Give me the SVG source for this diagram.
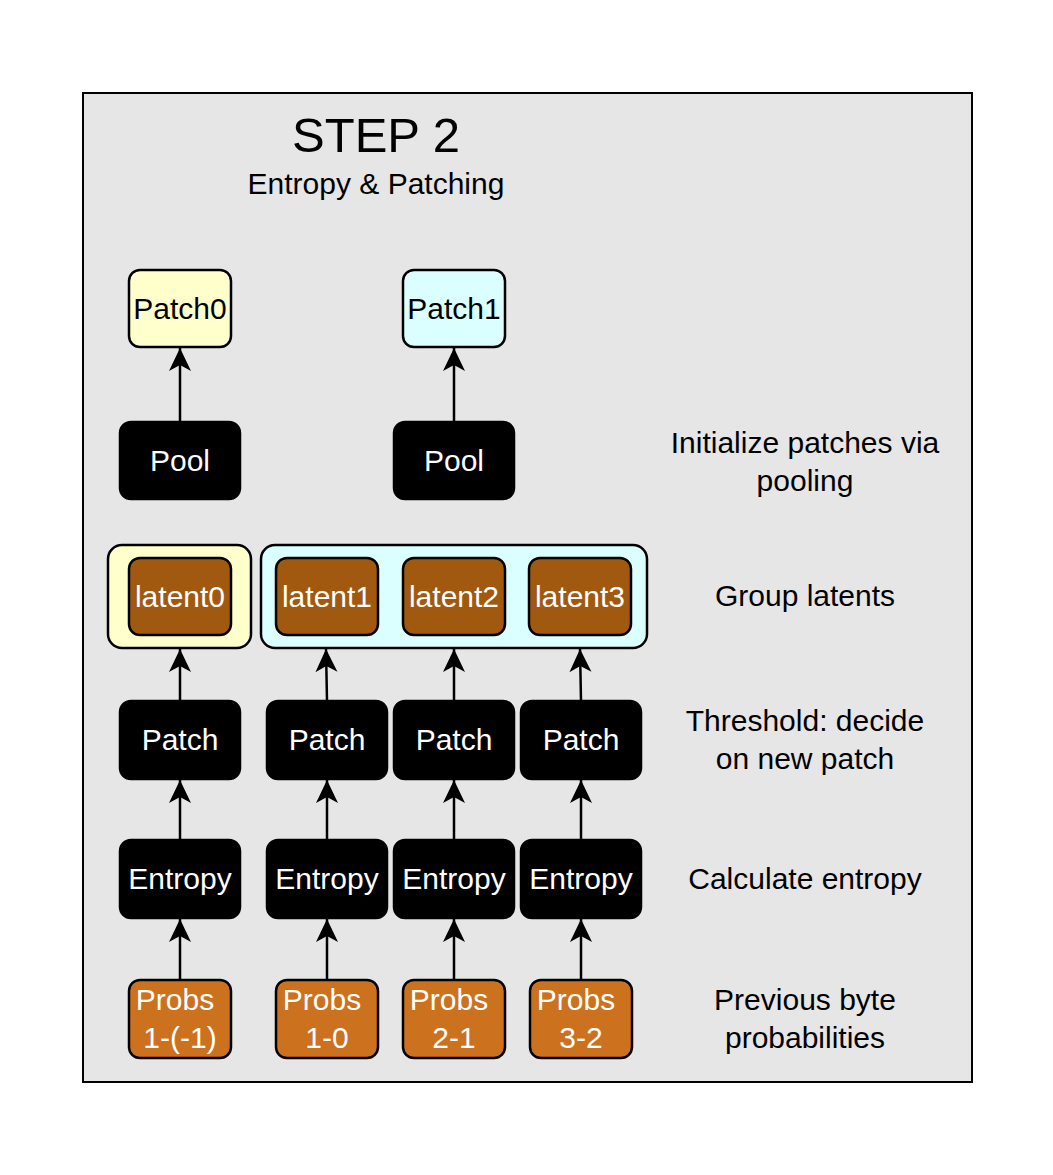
<svg xmlns="http://www.w3.org/2000/svg" width="1053" height="1175" viewBox="0 0 1053 1175">
<defs>
<marker id="arr" viewBox="0 0 24 24" markerWidth="24" markerHeight="24" refX="23" refY="12" orient="auto" markerUnits="userSpaceOnUse">
<path d="M23,12 L0,1 L6,12 L0,23 Z" fill="#000"/>
</marker>
<style>
text{font-family:"Liberation Sans",Arial,Helvetica,sans-serif;font-size:30px;text-anchor:middle}
.w{fill:#fff}
.k{fill:#000}
.box{stroke:#000;stroke-width:2.5}
.blk{fill:#000;stroke:#000;stroke-width:2.5}
.lat{fill:#a0590f;stroke:#000;stroke-width:2.5}
.prob{fill:#cc711d;stroke:#000;stroke-width:2.5}
.edge{stroke:#000;stroke-width:2.5;fill:none;marker-end:url(#arr)}
</style>
</defs>
<rect x="0" y="0" width="1053" height="1175" fill="#fff"/>
<rect id="frame" x="83" y="93" width="889" height="989" fill="#e6e6e6" stroke="#000" stroke-width="2"/>
<g id="title">
<text x="376" y="152" style="font-size:49px">STEP 2</text>
<text x="376" y="194">Entropy &amp; Patching</text>
</g>
<g id="labels">
<text x="805" y="453">Initialize patches via</text>
<text x="805" y="491">pooling</text>
<text x="805" y="606">Group latents</text>
<text x="805" y="731">Threshold: decide</text>
<text x="805" y="769">on new patch</text>
<text x="805" y="889">Calculate entropy</text>
<text x="805" y="1010">Previous byte</text>
<text x="805" y="1048">probabilities</text>
</g>
<g id="patch0"><rect class="box" x="129" y="270" width="102" height="77" rx="11" fill="#ffffcc"/><text x="180" y="319">Patch0</text></g>
<g id="patch1"><rect class="box" x="403" y="270" width="102" height="77" rx="11" fill="#dbffff"/><text x="454" y="319">Patch1</text></g>
<g id="pool0"><rect class="blk" x="120" y="422" width="120" height="77" rx="11"/><text class="w" x="180" y="471">Pool</text></g>
<g id="pool1"><rect class="blk" x="394" y="422" width="120" height="77" rx="11"/><text class="w" x="454" y="471">Pool</text></g>
<g id="group0"><rect class="box" x="108" y="545" width="143" height="103" rx="14" fill="#ffffcc"/></g>
<g id="group1"><rect class="box" x="261" y="545" width="386" height="103" rx="14" fill="#dbffff"/></g>
<g id="latent0"><rect class="lat" x="129" y="558" width="102" height="77" rx="11"/><text class="w" x="180" y="607">latent0</text></g>
<g id="latent1"><rect class="lat" x="276" y="558" width="102" height="77" rx="11"/><text class="w" x="327" y="607">latent1</text></g>
<g id="latent2"><rect class="lat" x="403" y="558" width="102" height="77" rx="11"/><text class="w" x="454" y="607">latent2</text></g>
<g id="latent3"><rect class="lat" x="529" y="558" width="102" height="77" rx="11"/><text class="w" x="580" y="607">latent3</text></g>
<g id="patchA"><rect class="blk" x="120" y="701" width="120" height="78" rx="11"/><text class="w" x="180" y="750">Patch</text></g>
<g id="patchB"><rect class="blk" x="267" y="701" width="120" height="78" rx="11"/><text class="w" x="327" y="750">Patch</text></g>
<g id="patchC"><rect class="blk" x="394" y="701" width="120" height="78" rx="11"/><text class="w" x="454" y="750">Patch</text></g>
<g id="patchD"><rect class="blk" x="521" y="701" width="120" height="78" rx="11"/><text class="w" x="581" y="750">Patch</text></g>
<g id="entropyA"><rect class="blk" x="120" y="840" width="120" height="78" rx="11"/><text class="w" x="180" y="889">Entropy</text></g>
<g id="entropyB"><rect class="blk" x="267" y="840" width="120" height="78" rx="11"/><text class="w" x="327" y="889">Entropy</text></g>
<g id="entropyC"><rect class="blk" x="394" y="840" width="120" height="78" rx="11"/><text class="w" x="454" y="889">Entropy</text></g>
<g id="entropyD"><rect class="blk" x="521" y="840" width="120" height="78" rx="11"/><text class="w" x="581" y="889">Entropy</text></g>
<g id="probsA"><rect class="prob" x="129" y="980" width="102" height="78" rx="11"/><text class="w" x="175" y="1010">Probs</text><text class="w" x="180" y="1048">1-(-1)</text></g>
<g id="probsB"><rect class="prob" x="276" y="980" width="102" height="78" rx="11"/><text class="w" x="322" y="1010">Probs</text><text class="w" x="327" y="1048">1-0</text></g>
<g id="probsC"><rect class="prob" x="403" y="980" width="102" height="78" rx="11"/><text class="w" x="449" y="1010">Probs</text><text class="w" x="454" y="1048">2-1</text></g>
<g id="probsD"><rect class="prob" x="530" y="980" width="102" height="78" rx="11"/><text class="w" x="576" y="1010">Probs</text><text class="w" x="581" y="1048">3-2</text></g>
<g id="connectors">
<path class="edge" d="M180,422 L180,348"/>
<path class="edge" d="M454,422 L454,348"/>
<path class="edge" d="M180,701 L180,649"/>
<path class="edge" d="M327,701 L326,649"/>
<path class="edge" d="M454,701 L454,649"/>
<path class="edge" d="M581,701 L580,649"/>
<path class="edge" d="M180,840 L180,780"/>
<path class="edge" d="M327,840 L327,780"/>
<path class="edge" d="M454,840 L454,780"/>
<path class="edge" d="M581,840 L581,780"/>
<path class="edge" d="M180,980 L180,919"/>
<path class="edge" d="M327,980 L327,919"/>
<path class="edge" d="M454,980 L454,919"/>
<path class="edge" d="M581,980 L581,919"/>
</g>
</svg>
